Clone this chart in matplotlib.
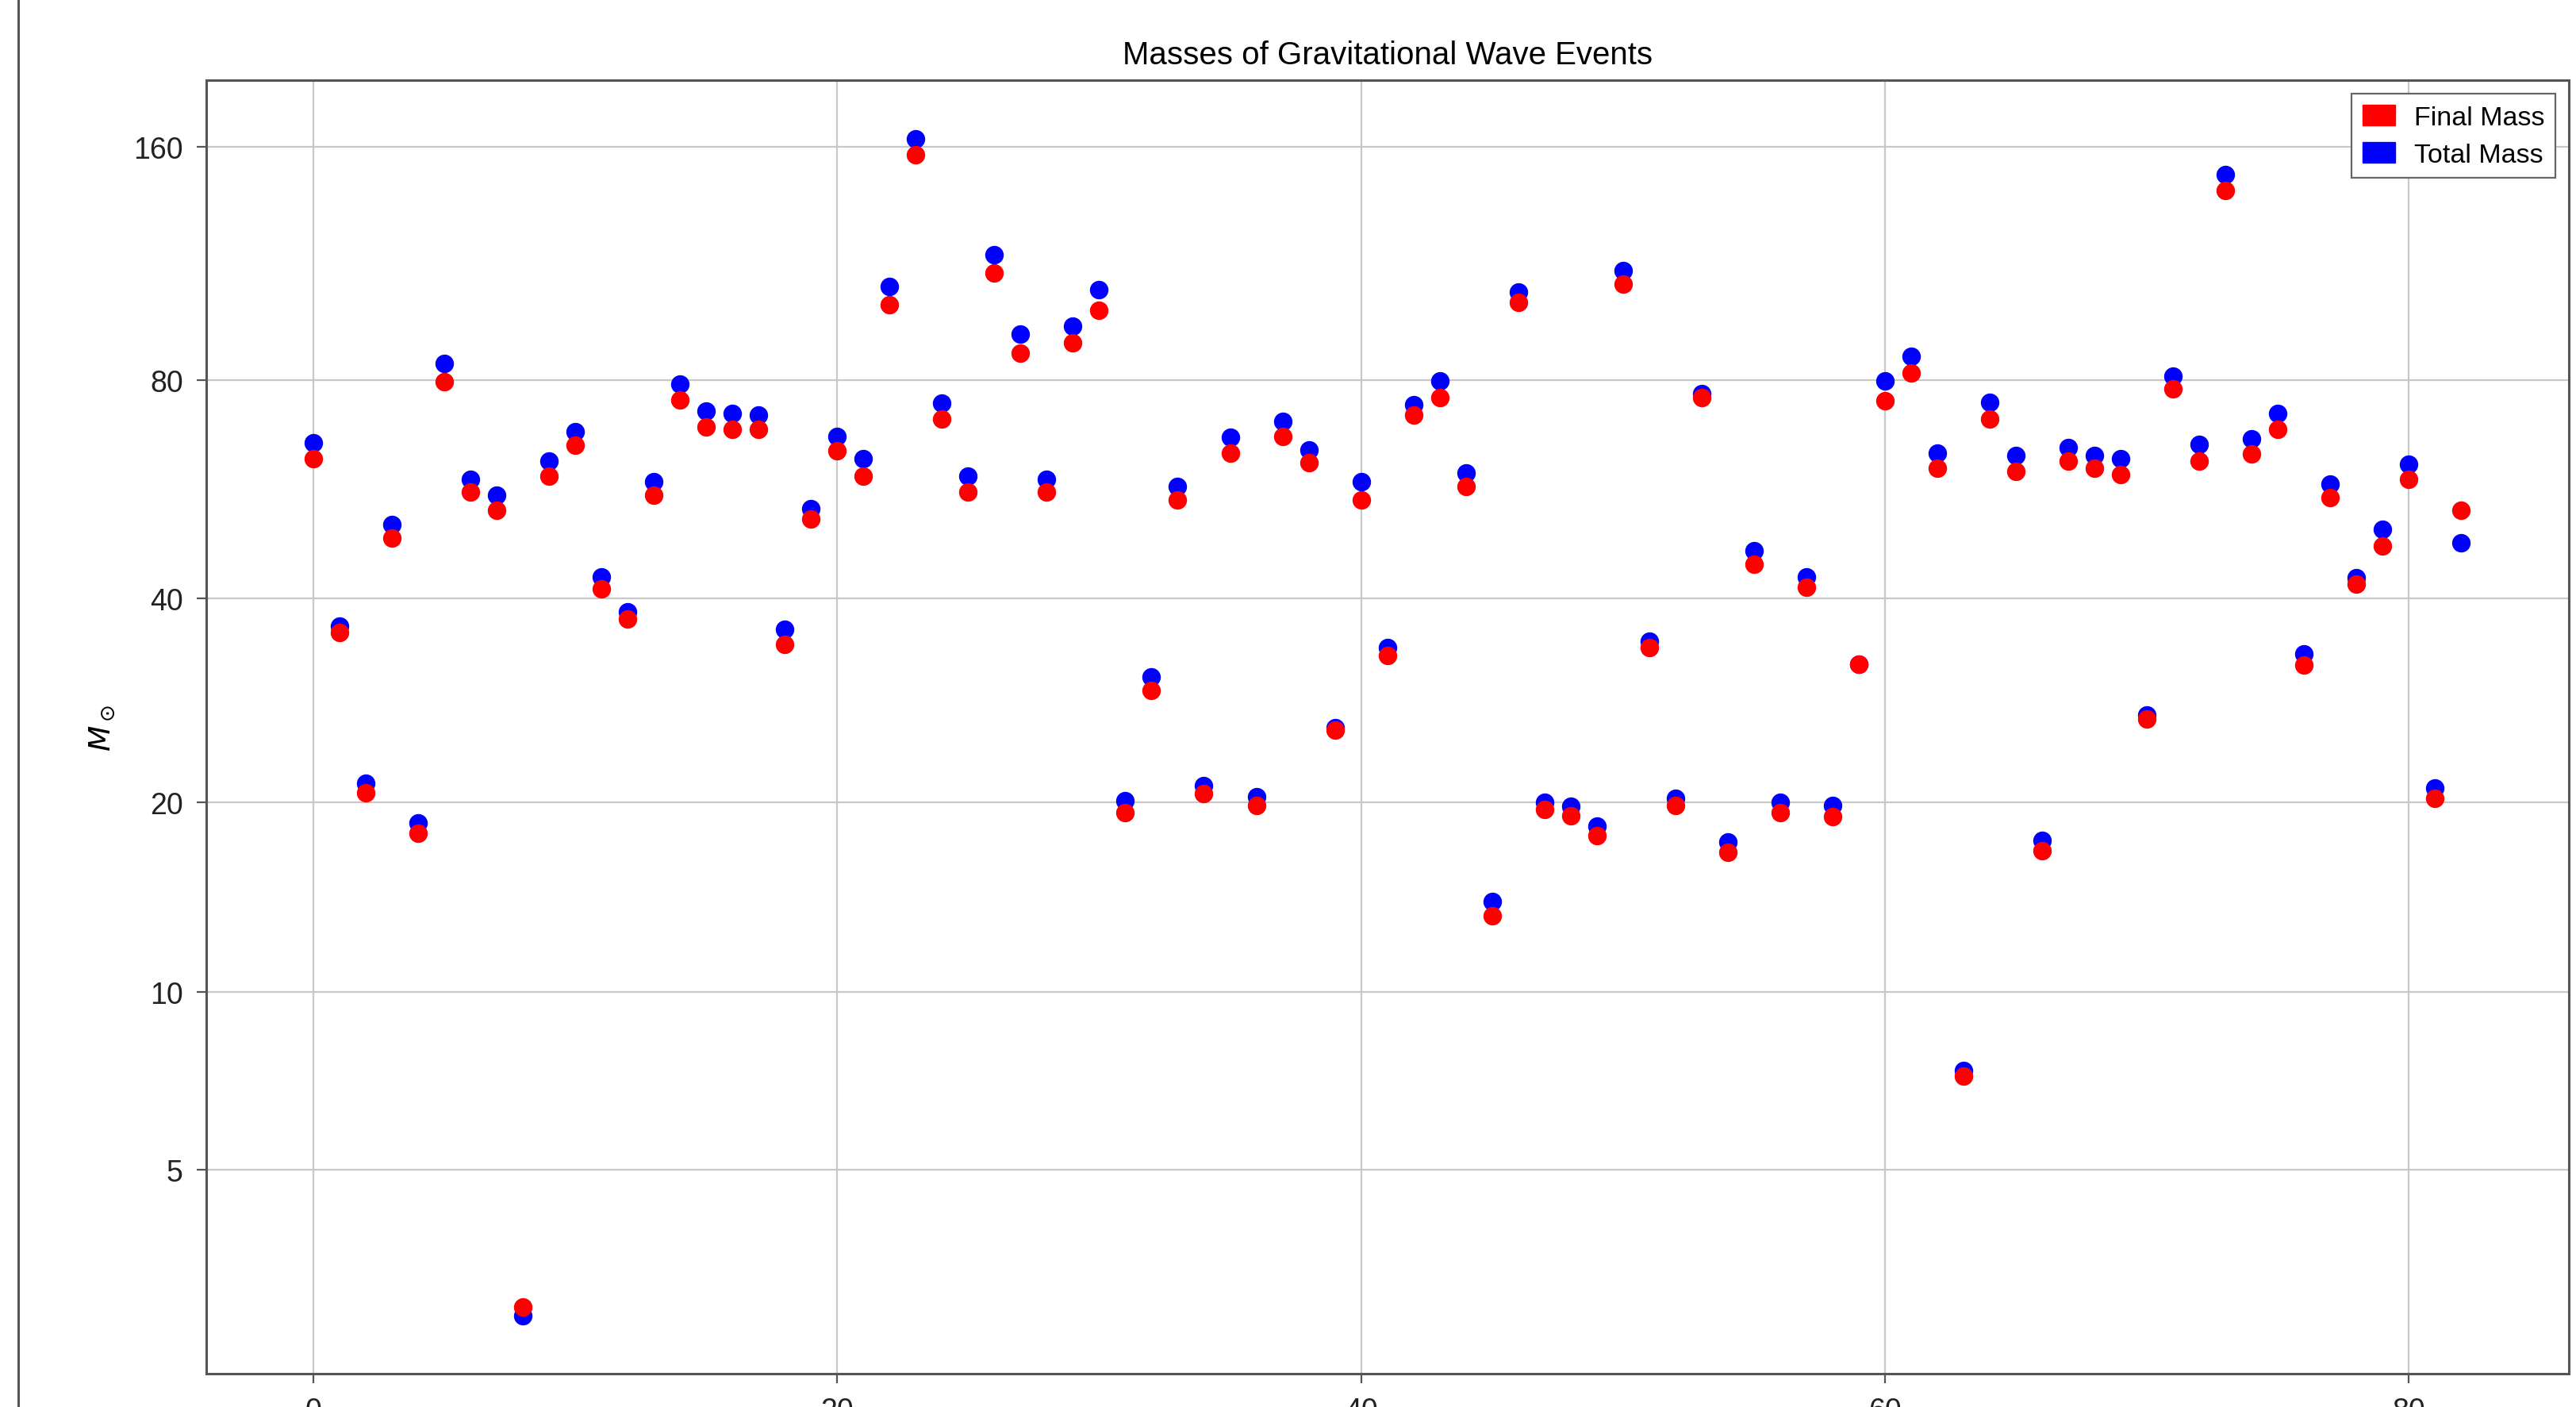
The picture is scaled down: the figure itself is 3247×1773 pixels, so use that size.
import numpy as np
import matplotlib
matplotlib.use("Agg")
import matplotlib.pyplot as plt
import matplotlib.patches as mpatches
from matplotlib.lines import Line2D
from matplotlib.ticker import NullLocator

# solar masses per event, in catalogue order
total_mass = [65.9, 36.5, 21.4, 50.9, 18.6, 84.3, 58.8, 55.9, 2.72, 62.3,
              68.2, 42.9, 38.3, 58.4, 79.1, 72.8, 72.3, 71.8, 36.1, 53.6,
              67.2, 62.7, 106.3, 163.6, 74.6, 59.3, 116.8, 92.0, 58.8, 94.3,
              105.3, 20.1, 30.8, 57.4, 21.2, 67.0, 20.4, 70.5, 64.4, 25.9,
              58.3, 34.0, 74.2, 79.9, 59.9, 14.0, 104.5, 20.0, 19.7, 18.4,
              111.4, 34.7, 20.3, 76.8, 17.35, 46.8, 20.0, 42.9, 19.8, 32.2,
              79.9, 86.2, 63.8, 7.40, 74.8, 63.4, 17.45, 64.9, 63.4, 62.7,
              27.1, 81.1, 65.6, 147.6, 66.7, 72.3, 33.3, 57.9, 42.8, 50.1,
              61.7, 21.0, 48.0]
final_mass = [62.8, 35.8, 20.7, 48.7, 17.9, 79.7, 56.4, 53.2, 2.82, 59.3,
              65.4, 41.3, 37.4, 55.9, 75.4, 69.3, 68.8, 68.8, 34.4, 51.8,
              64.3, 59.3, 100.6, 156.3, 71.0, 56.4, 110.6, 87.0, 56.4, 89.8,
              98.9, 19.3, 29.4, 55.1, 20.6, 63.8, 19.8, 67.2, 61.9, 25.7,
              55.1, 33.1, 71.8, 75.9, 57.4, 13.3, 101.3, 19.5, 19.05, 17.75,
              107.0, 34.0, 19.8, 75.9, 16.76, 44.8, 19.3, 41.5, 19.0, 32.2,
              75.2, 81.9, 60.8, 7.24, 71.0, 60.2, 16.81, 62.3, 60.8, 59.7,
              26.7, 78.0, 62.2, 140.9, 63.6, 68.8, 32.1, 55.4, 41.9, 47.5,
              58.8, 20.3, 53.2]
yticks = [5, 10, 20, 40, 80, 160]

events = np.arange(len(total_mass))

font = ["Liberation Sans Narrow", "Liberation Sans", "DejaVu Sans"]
plt.rcParams["font.family"] = font
plt.rcParams["mathtext.fontset"] = "custom"
plt.rcParams["mathtext.it"] = "Liberation Sans Narrow:italic"
plt.rcParams["mathtext.rm"] = "Liberation Sans Narrow"

fig = plt.figure(figsize=(32.48, 17.74), dpi=100)
ax = fig.add_axes([0.0799, 0.02368, 0.99683 - 0.0799, 0.94239 - 0.02368])

ax.scatter(events, total_mass, s=250, c="blue", zorder=3)
ax.scatter(events, final_mass, s=250, c="red", zorder=4)

ax.set_yscale("function", functions=(lambda v: v ** 0.1, lambda v: v ** 10))
ax.set_yticks(yticks, labels=[str(v) for v in yticks])
ax.yaxis.set_minor_locator(NullLocator())
ax.set_ylim(2.11, 193)

ax.grid(True, color="#c8c8c8", linewidth=1.6)
ax.set_axisbelow(True)
for sp in ax.spines.values():
    sp.set_color("#555555")
    sp.set_linewidth(2.2)
ax.tick_params(axis="both", labelsize=27, length=8.6, width=1.6,
               pad=12, color="#555555", labelcolor="#222222")

ax.set_title("Masses of Gravitational Wave Events", fontsize=29, pad=15.5)
ax.set_ylabel(r"$M_\odot$", fontsize=27)
ax.yaxis.set_label_coords(-0.0378, 0.5)

handles = [mpatches.Patch(color="red", label="Final Mass"),
           mpatches.Patch(color="blue", label="Total Mass")]
leg = ax.legend(handles=handles, loc="upper right", fontsize=24.5,
                fancybox=False, framealpha=1, edgecolor="#666666",
                handlelength=1.2, handleheight=0.8, handletextpad=0.7,
                borderpad=0.4, labelspacing=0.45, borderaxespad=0.5)
leg.get_frame().set_linewidth(1.6)

# thin border line down the left edge
fig.add_artist(Line2D([0.0071, 0.0071], [0, 1], transform=fig.transFigure,
                      color="#555555", linewidth=2.2))

fig.savefig("out.png", dpi=100)
